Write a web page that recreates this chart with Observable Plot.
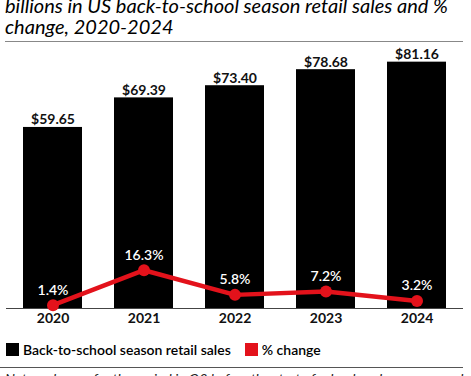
<!DOCTYPE html>
<html>
<head>
<meta charset="utf-8">
<script src="https://cdn.jsdelivr.net/npm/d3@7"></script>
<script src="https://cdn.jsdelivr.net/npm/@observablehq/plot@0.6"></script>
<style>
  html, body { margin: 0; padding: 0; background: #fff; overflow: hidden; }
  body { width: 471px; height: 376px; position: relative; font-family: Lato, "Open Sans", sans-serif; color: #000; }
  .tl { position: absolute; left: 5px; font-size: 20px; line-height: 20px; height: 20px; font-style: italic; font-weight: 400; white-space: nowrap; }
  #t1 { top: -5px; }
  #t2 { top: 16px; }
  #rule1 { position: absolute; left: 5px; width: 458px; top: 41px; height: 0; border-top: 1.5px solid #888; }
  #chart { position: absolute; left: 0; top: 42px; }
  #legend { position: absolute; left: 6px; top: 341px; font-size: 14px; font-weight: 600; display: flex; align-items: center; white-space: nowrap; }
  .sw { display: inline-block; width: 13px; height: 13px; margin-right: 4px; }
  .item { display: flex; align-items: center; margin-right: 14px; }
  #rule2 { position: absolute; left: 0; width: 463px; top: 367px; height: 0; border-top: 1px solid #555; }
  #note { position: absolute; left: 5px; top: 370px; font-size: 14px; font-style: italic; white-space: nowrap; color: #222; }
</style>
</head>
<body>
<div class="tl" id="t1">billions in US back-to-school season retail sales and %</div>
<div class="tl" id="t2">change, 2020-2024</div>
<div id="rule1"></div>
<div id="chart"></div>
<div id="legend">
  <span class="item"><span class="sw" style="background:#000"></span>Back-to-school season retail sales</span>
  <span class="item"><span class="sw" style="background:#e3121b"></span>% change</span>
</div>
<div id="rule2"></div>
<div id="note">Note: sales are for the period in Q3 before the start of school each year among households</div>
<script>
const years = ["2020", "2021", "2022", "2023", "2024"];
const sales = [59.65, 69.39, 73.40, 78.68, 81.16];
const pctChange = [1.4, 16.3, 5.8, 7.2, 3.2];
const lineScale = 0.774; // maps % onto the sales axis (secondary axis ratio)

const data = years.map((y, i) => ({year: y, sales: sales[i], pct: pctChange[i], pctY: pctChange[i] * lineScale}));
const red = "#e3121b";

const chart = Plot.plot({
  width: 471,
  height: 290,
  marginLeft: 6,
  marginRight: 8,
  marginTop: 8,
  marginBottom: 24,
  style: {fontFamily: "Lato, 'Open Sans', sans-serif", background: "transparent"},
  x: {domain: years, paddingInner: 0.35, paddingOuter: 0.175, label: null},
  y: {domain: [0, 85], axis: null},
  marks: [
    Plot.barY(data, {x: "year", y: "sales", fill: "#000"}),
    Plot.ruleY([0], {stroke: "#444", strokeWidth: 1}),
    Plot.axisX({tickSize: 0, tickPadding: 5, fontSize: 14, fontWeight: 700, fill: "#111", label: null}),
    Plot.text(data, {x: "year", y: "sales", text: d => "$" + d.sales.toFixed(2), lineAnchor: "bottom", dy: -3, fontSize: 14, fontWeight: 700, fill: "#111"}),
    Plot.line(data, {x: "year", y: "pctY", stroke: red, strokeWidth: 4.5}),
    Plot.dot(data, {x: "year", y: "pctY", r: 6, fill: red}),
    Plot.text(data, {x: "year", y: "pctY", text: d => d.pct.toFixed(1) + "%", dy: -15, fontSize: 14, fontWeight: 600, fill: "#fff"})
  ]
});
document.getElementById("chart").appendChild(chart);
</script>
</body>
</html>
